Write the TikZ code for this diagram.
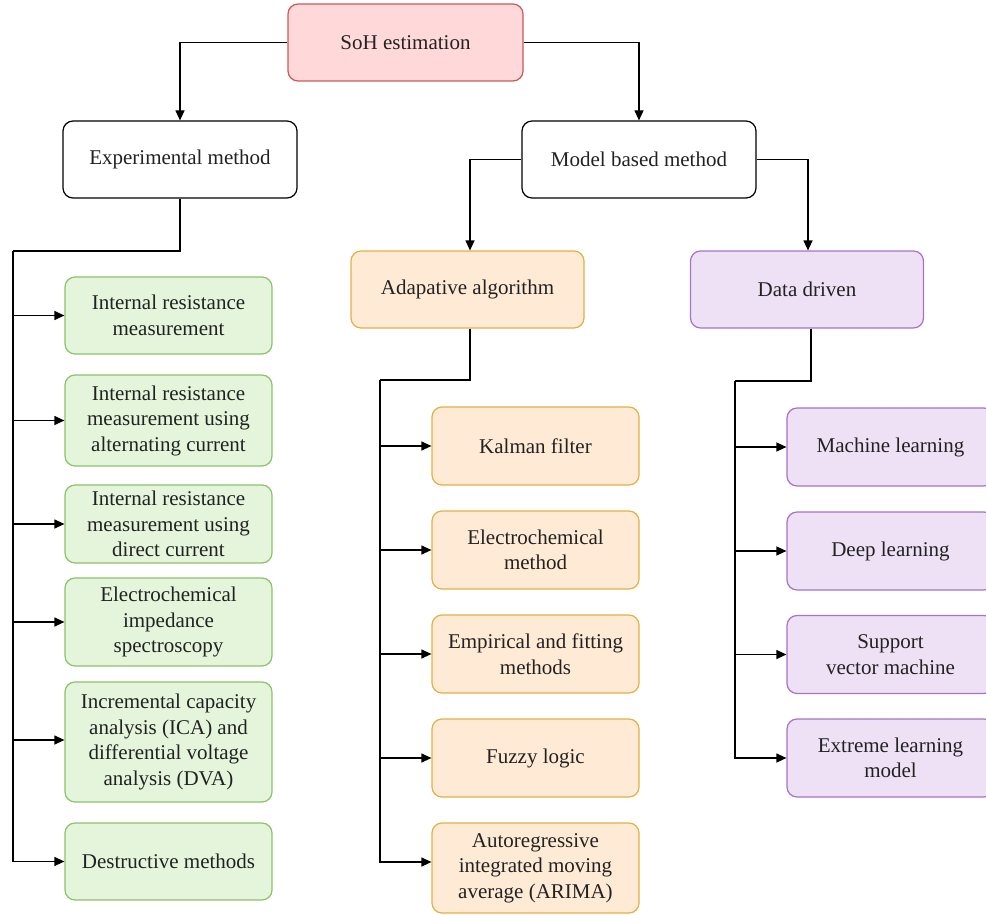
\documentclass[tikz,border=0pt]{standalone}
\usepackage{fontspec}
\setmainfont{Liberation Serif}
\usetikzlibrary{arrows.meta}
\definecolor{redfill}{HTML}{FFD9DA}
\definecolor{redline}{HTML}{C8595A}
\definecolor{grfill}{HTML}{E4F5DC}
\definecolor{grline}{HTML}{8CC26A}
\definecolor{orfill}{HTML}{FFEBD5}
\definecolor{orline}{HTML}{E2B045}
\definecolor{pufill}{HTML}{EEE0F5}
\definecolor{puline}{HTML}{A874C0}
\definecolor{txt}{HTML}{222222}
\begin{document}
\begin{tikzpicture}[x=1pt,y=-1pt,
  box/.style={draw, rounded corners=10pt, line width=1.2pt, align=center,
    text=txt, inner sep=0pt, font=\fontsize{21}{25.5}\selectfont},
  topbox/.style={box, fill=white, draw=black, minimum width=234pt, minimum height=77pt},
  redbox/.style={box, fill=redfill, draw=redline, minimum width=235pt, minimum height=77pt},
  grbox/.style={box, fill=grfill, draw=grline, minimum width=207pt},
  orbox/.style={box, fill=orfill, draw=orline, minimum width=207pt},
  pubox/.style={box, fill=pufill, draw=puline, minimum width=207pt},
  midbox/.style={box, minimum width=233pt, minimum height=77pt},
  conn/.style={line width=1.2pt, draw=black},
  arr/.style={conn, -{Triangle[length=10pt,width=9pt]}}]
\useasboundingbox (0,0) rectangle (986,915);
\clip (0,0) rectangle (986,915);
% nodes
\node[redbox] (soh) at (405.5,42.5) {SoH estimation};
\node[topbox] (exp) at (180,159.5) {Experimental method};
\node[topbox] (mod) at (639,159.5) {Model based method};
\node[midbox, fill=orfill, draw=orline] (ada) at (467.5,289.5) {Adapative algorithm};
\node[midbox, fill=pufill, draw=puline] (dat) at (807,289.5) {Data driven};
% green
\node[grbox, minimum height=77pt] (g1) at (168.5,315.5) {Internal resistance\\measurement};
\node[grbox, minimum height=91pt] (g2) at (168.5,420.5) {Internal resistance\\measurement using\\alternating current};
\node[grbox, minimum height=78pt] (g3) at (168.5,524) {Internal resistance\\measurement using\\direct current};
\node[grbox, minimum height=88pt] (g4) at (168.5,622) {Electrochemical\\impedance\\spectroscopy};
\node[grbox, minimum height=120pt] (g5) at (168.5,742) {Incremental capacity\\analysis (ICA) and\\differential voltage\\analysis (DVA)};
\node[grbox, minimum height=77pt] (g6) at (168.5,861.5) {Destructive methods};
% orange
\node[orbox, minimum height=78pt] (o1) at (535.5,446) {Kalman filter};
\node[orbox, minimum height=78pt] (o2) at (535.5,550) {Electrochemical\\method};
\node[orbox, minimum height=78pt] (o3) at (535.5,654) {Empirical and fitting\\methods};
\node[orbox, minimum height=78pt] (o4) at (535.5,758) {Fuzzy logic};
\node[orbox, minimum height=90pt] (o5) at (535.5,868) {Autoregressive\\integrated moving\\average (ARIMA)};
% purple
\node[pubox, minimum height=78pt] (p1) at (890.5,447) {Machine learning};
\node[pubox, minimum height=78pt] (p2) at (890.5,551) {Deep learning};
\node[pubox, minimum height=78pt] (p3) at (890.5,654.5) {Support\\vector machine};
\node[pubox, minimum height=78pt] (p4) at (890.5,758) {Extreme learning\\model};
% bus coordinates
\coordinate (ebus) at (13,251);
\coordinate (abus) at (380,380);
\coordinate (dbus) at (735,381);
% connectors
\draw[arr] (soh.west) -| (exp.north);
\draw[arr] (soh.east) -| (mod.north);
\draw[arr] (mod.west) -| ([xshift=2.5pt]ada.north);
\draw[arr] (mod.east) -| ([xshift=1pt]dat.north);
\draw[conn] (exp.south) |- (ebus);
\draw[conn] ([xshift=2.5pt]ada.south) |- (abus);
\draw[conn] ([xshift=4pt]dat.south) |- (dbus);
\foreach \n in {g1,g2,g3,g4,g6} \draw[arr] (ebus) |- (\n.west);
\draw[arr] (ebus) |- ([yshift=2pt]g5.west);
\foreach \n in {o1,o2,o3,o4} \draw[arr] (abus) |- (\n.west);
\draw[arr] (abus) |- ([yshift=6pt]o5.west);
\foreach \n in {p1,p2,p3,p4} \draw[arr] (dbus) |- (\n.west);
\end{tikzpicture}
\end{document}
